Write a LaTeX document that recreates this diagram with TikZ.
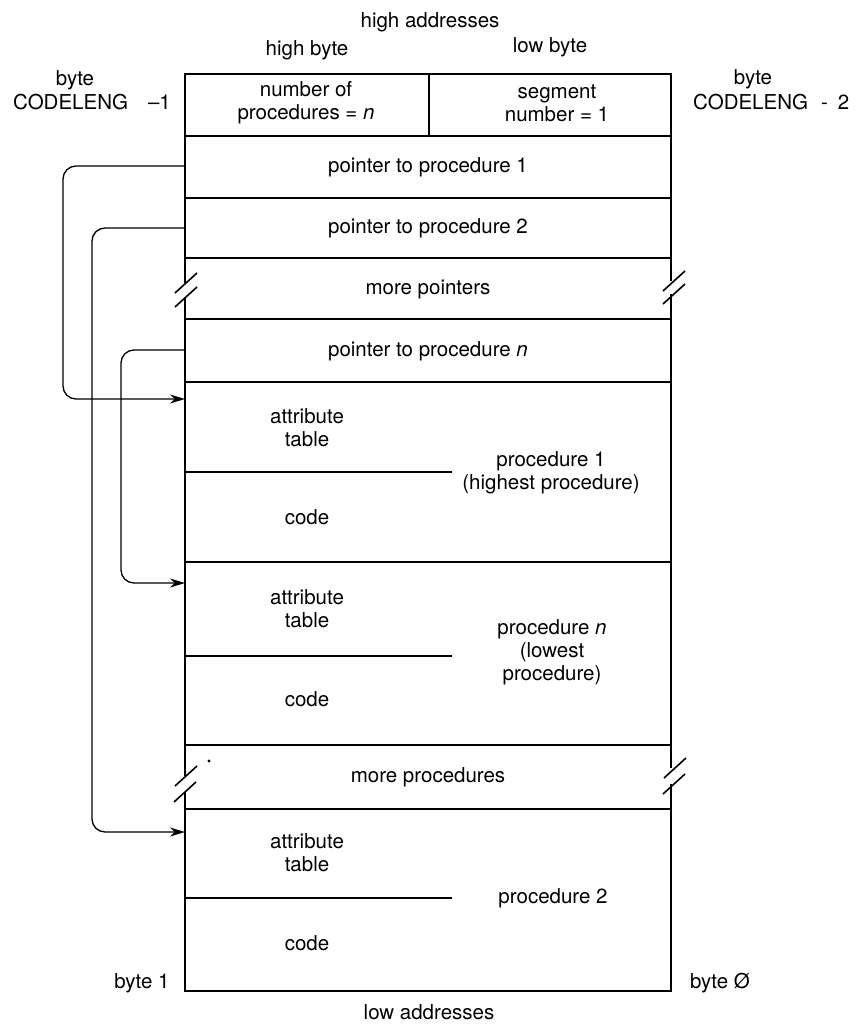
\documentclass[tikz,border=0pt]{standalone}
\usepackage{fontspec}
\setmainfont{TeX Gyre Heros}
\usetikzlibrary{arrows.meta}
\begin{document}
\begin{tikzpicture}[x=1pt,y=-1pt,
  lbl/.style={font=\fontsize{20.5}{23}\selectfont, align=center, inner sep=0pt},
  frame/.style={line width=2.5pt, line join=miter},
  sep/.style={line width=1.6pt},
  brk/.style={line width=1.6pt},
  ptr/.style={line width=1.3pt, rounded corners=13pt, -{Stealth[length=15pt,width=9pt]}}]
\useasboundingbox (0,0) rectangle (859,1025);

% outer frame with breaks
\draw[frame] (185,283) -- (185,74) -- (671,74) -- (671,281);
\draw[frame] (185,297) -- (185,776);
\draw[frame] (671,294) -- (671,768);
\draw[frame] (185,792) -- (185,991) -- (671,991) -- (671,784);

% separators
\draw[sep] (429,74) -- (429,136);
\foreach \yy in {136,198,258,319,382,562,745,809}
  \draw[sep] (185,\yy) -- (671,\yy);
\foreach \yy in {472,656,898}
  \draw[sep] (185,\yy) -- (452,\yy);

% break marks
\foreach \cx/\cy in {186/283, 186/297, 674/281, 674/294, 186/776, 185/792, 675/768, 674/784}
  \draw[brk] (\cx-11,\cy+10) -- (\cx+11,\cy-10);
\fill (209,761) circle (1.6pt);

% labels
\node[lbl] (hiaddr) at (430,22) {high addresses};
\node[lbl] (hibyte) at (307,50) {high byte};
\node[lbl] (lobyte) at (550,47) {low byte};
\node[lbl] (lbyte) at (75,80) {byte};
\node[lbl, anchor=west] (lcode) at (13,102) {CODELENG\hspace{20pt}–1};
\node[lbl] (rbyte) at (753,79) {byte};
\node[lbl, anchor=west] (rcode) at (693,102) {CODELENG\hspace{13pt}-\hspace{10pt}2};
\node[lbl] (nproc) at (306,103) {number of\\procedures = \textit{n}};
\node[lbl] (segno) at (557,103) {segment\\number = 1};
\node[lbl] (p1) at (428,167) {pointer to procedure 1};
\node[lbl] (p2) at (428,228) {pointer to procedure 2};
\node[lbl] (morep) at (428,289) {more pointers};
\node[lbl] (pn) at (428,351) {pointer to procedure \textit{n}};
\node[lbl] (at1) at (307,428) {attribute\\table};
\node[lbl] (code1) at (307,517) {code};
\node[lbl] (proc1) at (551,473) {procedure 1\\(highest procedure)};
\node[lbl] (atn) at (307,609) {attribute\\table};
\node[lbl] (coden) at (307,699) {code};
\node[lbl] (procn) at (552,652) {procedure \textit{n}\\(lowest\\procedure)};
\node[lbl] (morepr) at (428,777) {more procedures};
\node[lbl] (at2) at (307,853) {attribute\\table};
\node[lbl] (code2) at (307,943) {code};
\node[lbl] (proc2) at (553,898) {procedure 2};
\node[lbl] (byte1) at (142,983) {byte 1};
\node[lbl] (byte0) at (720,983) {byte Ø};
\node[lbl] (loaddr) at (429,1012) {low addresses};

% connector end points on the left edge of the box
\coordinate (p1out) at (185,166);
\coordinate (p2out) at (185,228);
\coordinate (pnout) at (185,350);
\coordinate (a1in) at (185,399);
\coordinate (anin) at (185,583);
\coordinate (a2in) at (185,832);

\draw[ptr] (p1out) -- (63,166) -- (63,399) -- (a1in);
\draw[ptr] (p2out) -- (92,228) -- (92,832) -- (a2in);
\draw[ptr] (pnout) -- (121,350) -- (121,583) -- (anin);
\end{tikzpicture}
\end{document}
